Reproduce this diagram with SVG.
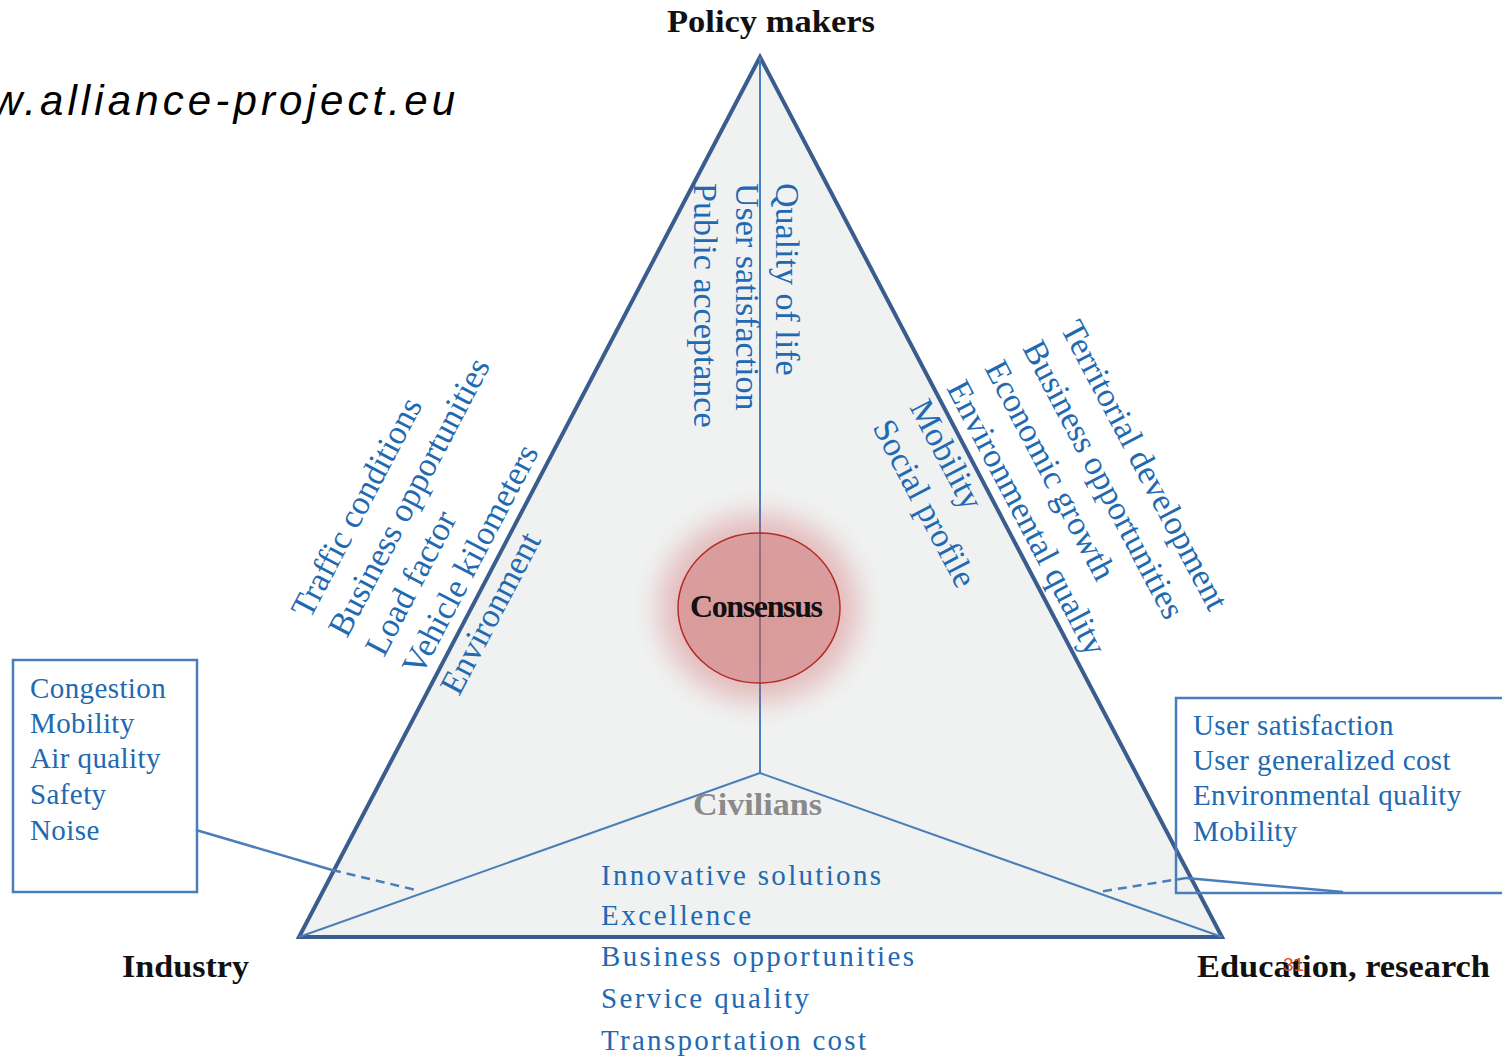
<svg xmlns="http://www.w3.org/2000/svg" width="1502" height="1060" viewBox="0 0 1502 1060">
  <style>
    .crit { font-family: "Liberation Serif", "Times New Roman", serif; fill: #2169b1; font-size: 34px; }
    .item { font-family: "Liberation Serif", "Times New Roman", serif; fill: #2169b1; font-size: 29px; }
    .boxitem { letter-spacing: 0.4px; }
    .head { font-family: "Liberation Serif", "Times New Roman", serif; font-weight: bold; font-size: 32px; fill: #111; }
    .edge { fill: #f0f2f2; stroke: #3a5d8e; stroke-width: 4; stroke-linejoin: miter; }
    .spoke { fill: none; stroke: #4a7ebb; stroke-width: 2; }
    .box { fill: none; stroke: #4a7ebb; stroke-width: 2.5; }
    .call { fill: none; stroke: #4a7ebb; stroke-width: 2.5; }
    .dash { stroke-dasharray: 9 6; }
  </style>
  <defs>
    <filter id="glow" x="-50%" y="-50%" width="200%" height="200%">
      <feGaussianBlur stdDeviation="14"/>
    </filter>
  </defs>

  <rect width="1502" height="1060" fill="#ffffff"/>

  <!-- site address, cut at the left margin -->
  <text x="-8" y="115" font-family="'Liberation Sans', Arial, sans-serif" font-style="italic" font-size="42" textLength="463" lengthAdjust="spacing" fill="#000">w.alliance-project.eu</text>

  <!-- stakeholder triangle -->
  <g id="triangle">
    <polygon class="edge" points="760,57 299,937 1222,937"/>
  </g>

  <!-- spokes and call-out lines -->
  <g id="connectors">
    <line class="spoke" x1="760" y1="57" x2="760" y2="773"/>
    <line class="spoke" x1="760" y1="773" x2="299" y2="937"/>
    <line class="spoke" x1="760" y1="773" x2="1222" y2="937"/>
    <line class="call" x1="196" y1="830" x2="332" y2="870"/>
    <line class="call dash" x1="332" y1="870" x2="416" y2="890"/>
    <line class="call" x1="1343" y1="892" x2="1186" y2="878"/>
    <line class="call dash" x1="1186" y1="878" x2="1098" y2="892"/>
  </g>

  <!-- consensus in the centre -->
  <g id="node-consensus">
    <ellipse cx="759" cy="608" rx="100" ry="94" fill="#d05c5c" opacity="0.36" filter="url(#glow)"/>
    <ellipse cx="759" cy="608" rx="81" ry="75" fill="#c86464" fill-opacity="0.36" stroke="#b52a2a" stroke-width="1.5"/>
    <text class="head" x="690" y="617" font-size="26" textLength="133" lengthAdjust="spacing">Consensus</text>
  </g>

  <!-- policy makers: apex label and its criteria -->
  <g id="node-policy-makers">
    <text class="head" x="667" y="32" textLength="208" lengthAdjust="spacingAndGlyphs">Policy makers</text>
    <text class="crit" transform="translate(776,183) rotate(90)">Quality of life</text>
    <text class="crit" transform="translate(736,183) rotate(90)">User satisfaction</text>
    <text class="crit" transform="translate(694,183) rotate(90)">Public acceptance</text>
  </g>

  <!-- criteria along the left side -->
  <g id="criteria-left">
    <text class="crit" transform="translate(310,620) rotate(-62.3)">Traffic conditions</text>
    <text class="crit" transform="translate(347,639) rotate(-62.3)">Business opportunities</text>
    <text class="crit" transform="translate(384,658) rotate(-62.3)">Load factor</text>
    <text class="crit" transform="translate(421,677) rotate(-62.3)">Vehicle kilometers</text>
    <text class="crit" transform="translate(459,697) rotate(-62.3)">Environment</text>
  </g>

  <!-- criteria along the right side -->
  <g id="criteria-right">
    <text class="crit" transform="translate(1060,328) rotate(62.3)">Territorial development</text>
    <text class="crit" transform="translate(1022,348) rotate(62.3)">Business opportunities</text>
    <text class="crit" transform="translate(984,368) rotate(62.3)">Economic growth</text>
    <text class="crit" transform="translate(946,388) rotate(62.3)">Environmental quality</text>
    <text class="crit" transform="translate(909,407) rotate(62.3)">Mobility</text>
    <text class="crit" transform="translate(872,427) rotate(62.3)">Social profile</text>
  </g>

  <!-- industry corner -->
  <g id="node-industry">
    <text class="head" x="122" y="977" textLength="127" lengthAdjust="spacingAndGlyphs">Industry</text>
    <rect class="box" x="13" y="660" width="184" height="232"/>
    <text class="item boxitem" x="30" y="698">Congestion</text>
    <text class="item boxitem" x="30" y="733">Mobility</text>
    <text class="item boxitem" x="30" y="768">Air quality</text>
    <text class="item boxitem" x="30" y="804">Safety</text>
    <text class="item boxitem" x="30" y="840">Noise</text>
  </g>

  <!-- education and research corner -->
  <g id="node-education">
    <rect class="box" x="1176" y="698" width="400" height="195"/>
    <text class="item boxitem" x="1193" y="735">User satisfaction</text>
    <text class="item boxitem" x="1193" y="770">User generalized cost</text>
    <text class="item boxitem" x="1193" y="805">Environmental quality</text>
    <text class="item boxitem" x="1193" y="841">Mobility</text>
    <text class="head" x="1197" y="977" textLength="293" lengthAdjust="spacingAndGlyphs">Education, research</text>
  </g>

  <!-- civilians: inner node and its list -->
  <g id="node-civilians">
    <text class="head" x="693" y="815" style="fill:#8a8a8a" textLength="129" lengthAdjust="spacingAndGlyphs">Civilians</text>
    <text class="item" x="601" y="885" font-size="30" textLength="280" lengthAdjust="spacing">Innovative solutions</text>
    <text class="item" x="601" y="925" font-size="30" textLength="150" lengthAdjust="spacing">Excellence</text>
    <text class="item" x="601" y="966" font-size="30" textLength="313" lengthAdjust="spacing">Business opportunities</text>
    <text class="item" x="601" y="1008" font-size="30" textLength="208" lengthAdjust="spacing">Service quality</text>
    <text class="item" x="601" y="1050" font-size="30" textLength="265" lengthAdjust="spacing">Transportation cost</text>
  </g>

  <!-- page number -->
  <text x="1283" y="971" font-family="'Liberation Sans', Arial, sans-serif" font-size="19" fill="#d9542b">31</text>
</svg>
